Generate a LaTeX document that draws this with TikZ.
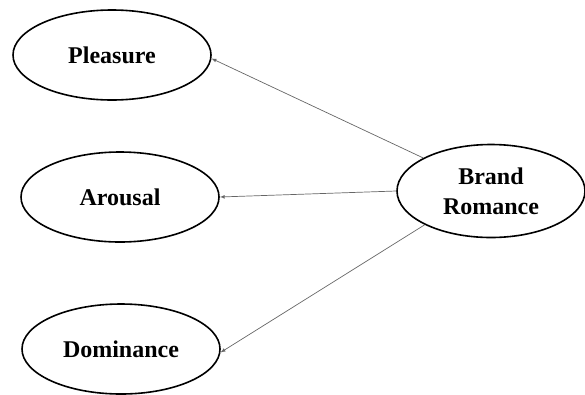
\documentclass[tikz,border=0pt]{standalone}
\usepackage{fontspec}
\setmainfont{Liberation Serif}
\usetikzlibrary{shapes.geometric}

\begin{document}
\begin{tikzpicture}[x=1pt,y=-1pt,
  construct/.style={draw,ellipse,line width=1.6pt,inner sep=0pt,
    minimum width=198pt,minimum height=90pt,align=center,
    font=\fontsize{24}{30}\selectfont\bfseries},
  effect/.style={gray!80!black,line width=0.7pt,-latex}]
  \useasboundingbox (0,0) rectangle (585,394);

  % dimensions of emotion
  \node[construct] (pleasure) at (112,55) {Pleasure};
  \node[construct] (arousal) at (120,197) {Arousal};
  \node[construct] (dominance) at (121,349) {Dominance};

  % brand romance
  \node[construct,minimum width=188pt,minimum height=93pt] (romance) at (491,191) {Brand\\Romance};

  \draw[effect] (romance.154) -- (pleasure.358);
  \draw[effect] (romance.west) -- (arousal.east);
  \draw[effect] (romance.207) -- (dominance.358);
\end{tikzpicture}
\end{document}
